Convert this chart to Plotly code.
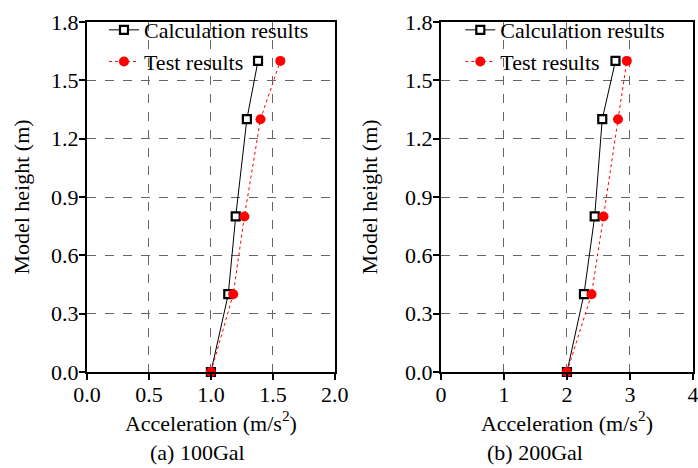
import plotly.graph_objects as go

heights = [0.0, 0.4, 0.8, 1.3, 1.6]
calc_100 = [1.0, 1.14, 1.20, 1.29, 1.38]
test_100 = [1.0, 1.18, 1.27, 1.40, 1.56]
calc_200 = [2.0, 2.27, 2.44, 2.56, 2.77]
test_200 = [2.0, 2.39, 2.58, 2.81, 2.95]
y_ticks = [0.0, 0.3, 0.6, 0.9, 1.2, 1.5, 1.8]
x_ticks_a = [0.0, 0.5, 1.0, 1.5, 2.0]
x_ticks_b = [0, 1, 2, 3, 4]

FONT = "Liberation Serif"
FS = 22
fig = go.Figure()

def add(xv, name, xa, ya, legend, calc):
    if calc:
        fig.add_trace(go.Scatter(x=xv, y=heights, name=name, mode="lines+markers",
                                 line=dict(color="black", width=1),
                                 marker=dict(symbol="square", size=8, color="white",
                                             line=dict(color="black", width=2.2)),
                                 xaxis=xa, yaxis=ya, legend=legend, cliponaxis=False))
    else:
        fig.add_trace(go.Scatter(x=xv, y=heights, name=name, mode="lines+markers",
                                 line=dict(color="red", width=1, dash="dot"),
                                 marker=dict(symbol="circle", size=10, color="red"),
                                 xaxis=xa, yaxis=ya, legend=legend, cliponaxis=False))

add(calc_100, "Calculation results", "x", "y", "legend", True)
add(test_100, "Test results", "x", "y", "legend", False)
add(calc_200, "Calculation results", "x2", "y2", "legend2", True)
add(test_200, "Test results", "x2", "y2", "legend2", False)

def fnt():
    return dict(family=FONT, size=FS, color="black")

def ax(**kw):
    d = dict(showline=True, linewidth=2, linecolor="black", mirror=True,
             ticks="outside", ticklen=6, tickwidth=2, tickcolor="black",
             showgrid=True, gridcolor="#666", griddash="dash", gridwidth=1,
             zeroline=False, tickfont=fnt(), automargin=False, ticklabelstandoff=-4,
             ticklabeloverflow="allow")
    d.update(kw)
    return d

xtitle = "Acceleration (m/s<sup>2</sup>)"
ytitle = "Model height (m)"

fig.update_layout(
    width=698, height=468,
    margin=dict(l=87, r=5, t=22, b=96, autoexpand=False),
    plot_bgcolor="white", paper_bgcolor="white",
    font=fnt(),
    xaxis=ax(domain=[0, 0.409], range=[0, 2.0], tickvals=x_ticks_a,
             ticktext=[f"{v:.1f}" for v in x_ticks_a],
             title=dict(text=xtitle, font=fnt(), standoff=4)),
    yaxis=ax(range=[0, 1.8], tickvals=y_ticks, ticktext=[f"{v:.1f}" for v in y_ticks],
             title=dict(text=ytitle, font=fnt(), standoff=15)),
    xaxis2=ax(domain=[0.584, 1.0], range=[0, 4], tickvals=x_ticks_b,
              ticktext=[str(v) for v in x_ticks_b], anchor="y2",
              title=dict(text=xtitle, font=fnt(), standoff=4)),
    yaxis2=ax(range=[0, 1.8], tickvals=y_ticks, ticktext=[f"{v:.1f}" for v in y_ticks],
              anchor="x2",
              title=dict(text=ytitle, font=fnt(), standoff=21)),
    legend=dict(x=0.028, y=1.037, xanchor="left", yanchor="top", bgcolor="rgba(0,0,0,0)",
                font=fnt(), tracegroupgap=0),
    legend2=dict(x=0.616, y=1.037, xanchor="left", yanchor="top", bgcolor="rgba(0,0,0,0)",
                 font=fnt(), tracegroupgap=0),
    annotations=[
        dict(text="(a) 100Gal", x=0.183, y=-0.231, xref="paper", yref="paper",
             xanchor="center", yanchor="middle",
             showarrow=False, font=fnt()),
        dict(text="(b) 200Gal", x=0.739, y=-0.231, xref="paper", yref="paper",
             xanchor="center", yanchor="middle",
             showarrow=False, font=fnt()),
    ],
)

fig.write_html("out.html")
